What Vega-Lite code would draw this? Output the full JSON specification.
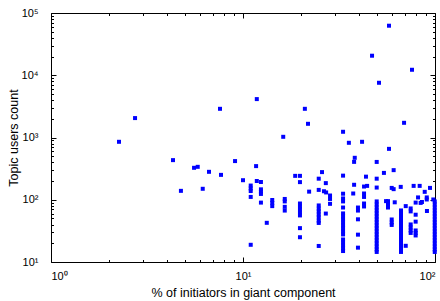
{
  "$schema": "https://vega.github.io/schema/vega-lite/v6.json",
  "width": 384,
  "height": 249,
  "autosize": {"type": "none"},
  "padding": {"left": 51, "top": 13, "right": 5, "bottom": 39},
  "background": "white",
  "config": {
    "view": {"stroke": "black", "strokeWidth": 1},
    "axis": {"labelFont": "Liberation Sans", "titleFont": "Liberation Sans", "labelColor": "black", "titleColor": "black", "tickColor": "black", "tickWidth": 1, "domain": false, "grid": false}
  },
  "data": {"values": [
    {"x":2.26,"y":853},{"x":2.74,"y":2051},{"x":4.32,"y":433},{"x":4.75,"y":139},{"x":5.56,"y":326},{"x":5.81,"y":338},{"x":6.17,"y":150},{"x":6.65,"y":281},{"x":7.59,"y":2890},{"x":7.68,"y":251},{"x":9.09,"y":418},{"x":10.0,"y":206},
    {"x":10.97,"y":169},{"x":10.97,"y":152},{"x":10.97,"y":138},{"x":10.97,"y":111},{"x":10.97,"y":18.9},
    {"x":11.8,"y":4140},{"x":11.7,"y":347},{"x":11.8,"y":200},
    {"x":12.4,"y":193},{"x":12.4,"y":147},{"x":12.4,"y":135},{"x":12.4,"y":124},{"x":12.4,"y":90},
    {"x":13.3,"y":42.6},
    {"x":14.2,"y":99},{"x":14.2,"y":89},{"x":14.2,"y":79},
    {"x":16.5,"y":103},{"x":16.5,"y":94},{"x":16.5,"y":77},{"x":16.5,"y":67},
    {"x":16.2,"y":1026},
    {"x":18.7,"y":242},{"x":19.8,"y":242},{"x":19.8,"y":192},
    {"x":19.8,"y":87},{"x":19.8,"y":78},{"x":19.8,"y":70},{"x":19.8,"y":62.5},{"x":19.8,"y":56},
    {"x":19.8,"y":35},{"x":19.8,"y":25},
    {"x":21.0,"y":2890},{"x":21.8,"y":1660},
    {"x":22.1,"y":135},
    {"x":24.8,"y":218},{"x":24.8,"y":144},{"x":24.8,"y":81},{"x":24.8,"y":72},{"x":24.8,"y":65},{"x":24.8,"y":58},{"x":24.8,"y":52},{"x":24.8,"y":46},{"x":24.8,"y":42.4},{"x":24.8,"y":18.1},
    {"x":25.8,"y":278},{"x":27.0,"y":185},{"x":26.4,"y":137},{"x":27.1,"y":131},
    {"x":28.4,"y":117},{"x":28.4,"y":103},{"x":28.4,"y":86},
    {"x":27.0,"y":60},
    {"x":33.2,"y":1236},{"x":35.6,"y":822},{"x":41.7,"y":853},
    {"x":33.2,"y":244},{"x":33.2,"y":125},{"x":33.2,"y":105},{"x":33.2,"y":94},{"x":33.2,"y":75},{"x":33.2,"y":60.3},{"x":33.2,"y":53.9},{"x":33.2,"y":48.2},{"x":33.2,"y":43.2},{"x":33.2,"y":38.6},{"x":33.2,"y":34.6},{"x":33.2,"y":30.9},{"x":33.2,"y":27.7},{"x":33.2,"y":23.0},{"x":33.2,"y":20.6},{"x":33.2,"y":18.4},{"x":33.2,"y":16.5},{"x":33.2,"y":15.0},
    {"x":37.9,"y":406},{"x":38.2,"y":472},{"x":37.9,"y":174},{"x":37.5,"y":126},
    {"x":39.7,"y":75},{"x":39.7,"y":67},{"x":39.7,"y":48.5},{"x":39.7,"y":27.5},{"x":39.7,"y":17.0},
    {"x":42.7,"y":163},{"x":42.7,"y":126},{"x":42.7,"y":111},{"x":42.7,"y":87},{"x":42.7,"y":78},
    {"x":43.7,"y":235},{"x":44.3,"y":167},
    {"x":49.7,"y":405},{"x":49.7,"y":218},{"x":49.7,"y":157},
    {"x":49.7,"y":94},{"x":49.7,"y":84},{"x":49.7,"y":75.2},{"x":49.7,"y":67.3},{"x":49.7,"y":60.2},{"x":49.7,"y":53.9},{"x":49.7,"y":48.2},{"x":49.7,"y":43.2},{"x":49.7,"y":38.6},{"x":49.7,"y":34.6},{"x":49.7,"y":30.9},{"x":49.7,"y":27.7},{"x":49.7,"y":24.8},{"x":49.7,"y":22.2},{"x":49.7,"y":19.8},{"x":49.7,"y":17.7},{"x":49.7,"y":15.9},{"x":49.7,"y":14.5},
    {"x":54.2,"y":270},{"x":55.6,"y":95},{"x":56.9,"y":95},{"x":56.9,"y":84},{"x":56.9,"y":75},
    {"x":57.6,"y":657},{"x":57.6,"y":62500},{"x":47.0,"y":20600},{"x":51.1,"y":7570},{"x":75.9,"y":12250},{"x":69.0,"y":1722},
    {"x":59.5,"y":155},{"x":60.9,"y":148},{"x":60.9,"y":299},{"x":59.5,"y":48.2},{"x":59.5,"y":43.2},{"x":59.5,"y":39.4},
    {"x":61.7,"y":91},{"x":66.3,"y":161},
    {"x":66.5,"y":67.3},{"x":66.5,"y":60.2},{"x":66.5,"y":53.9},{"x":66.5,"y":48.2},{"x":66.5,"y":43.2},{"x":66.5,"y":38.6},{"x":66.5,"y":34.6},{"x":66.5,"y":30.9},{"x":66.5,"y":27.7},{"x":66.5,"y":24.8},{"x":66.5,"y":22.2},{"x":66.5,"y":19.8},{"x":66.5,"y":17.7},{"x":66.5,"y":15.9},{"x":66.5,"y":14.5},
    {"x":70.4,"y":79},{"x":70.4,"y":18.2},
    {"x":74.7,"y":72.5},{"x":74.7,"y":65},{"x":74.7,"y":40.1},{"x":74.7,"y":35.9},{"x":74.7,"y":32.1},{"x":74.7,"y":29.3},
    {"x":77.4,"y":167},
    {"x":79.3,"y":90},{"x":79.3,"y":57.5},{"x":79.3,"y":44.5},{"x":79.3,"y":32.1},{"x":79.3,"y":29.3},{"x":79.3,"y":26.7},
    {"x":83.2,"y":167},{"x":81.6,"y":109},{"x":85.5,"y":92},{"x":84.2,"y":89},
    {"x":88.4,"y":134},{"x":90.6,"y":109},{"x":90.6,"y":101},{"x":90.8,"y":66},
    {"x":94.2,"y":155},{"x":98,"y":101},
    {"x":99.7,"y":94},{"x":99.7,"y":84},{"x":99.7,"y":75.2},{"x":99.7,"y":67.3},{"x":99.7,"y":60.2},{"x":99.7,"y":53.9},{"x":99.7,"y":48.2},{"x":99.7,"y":43.2},{"x":99.7,"y":38.6},{"x":99.7,"y":34.6},{"x":99.7,"y":30.9},{"x":99.7,"y":27.7},{"x":99.7,"y":24.8},{"x":99.7,"y":22.2},{"x":99.7,"y":19.8},{"x":99.7,"y":17.7},{"x":99.7,"y":15.9},{"x":99.7,"y":14.5}
  ]},
  "resolve": {"axis": {"x": "independent", "y": "independent"}},
  "layer": [
    {
      "mark": {"type": "point", "shape": "square", "filled": true, "size": 16, "color": "#0000ff", "opacity": 1, "strokeWidth": 0},
      "encoding": {
        "x": {"field": "x", "type": "quantitative", "scale": {"type": "log", "domain": [1, 100], "nice": false},
          "axis": {"orient": "bottom", "values": [1, 10, 100], "ticks": false, "labelPadding": 8, "labelFontSize": 11,
            "labelExpr": "datum.value == 1 ? '10⁰' : datum.value == 10 ? '10¹' : '10²'",
            "title": "% of initiators in giant component", "titleFontSize": 12.5, "titleFontWeight": "normal", "titlePadding": 5}},
        "y": {"field": "y", "type": "quantitative", "scale": {"type": "log", "domain": [10, 100000], "nice": false},
          "axis": {"orient": "left", "values": [10, 100, 1000, 10000, 100000], "ticks": false, "labelPadding": 13, "labelFontSize": 11,
            "labelExpr": "datum.value == 10 ? '10¹' : datum.value == 100 ? '10²' : datum.value == 1000 ? '10³' : datum.value == 10000 ? '10⁴' : '10⁵'",
            "title": "Topic users count", "titleFontSize": 12.5, "titleFontWeight": "normal", "titlePadding": 1}}
      }
    },
    {
      "mark": {"type": "point", "opacity": 0},
      "encoding": {
        "x": {"field": "x", "type": "quantitative", "scale": {"type": "log", "domain": [1, 100], "nice": false},
          "axis": {"orient": "bottom", "values": [1, 10, 100], "labels": false, "tickSize": -5, "tickColor": "black", "tickWidth": 1, "title": null}},
        "y": {"field": "y", "type": "quantitative", "scale": {"type": "log", "domain": [10, 100000], "nice": false},
          "axis": {"orient": "left", "values": [10, 100, 1000, 10000, 100000], "labels": false, "tickSize": -5, "tickColor": "black", "tickWidth": 1, "title": null}}
      }
    },
    {
      "mark": {"type": "point", "opacity": 0},
      "encoding": {
        "x": {"field": "x", "type": "quantitative", "scale": {"type": "log", "domain": [1, 100], "nice": false},
          "axis": {"orient": "bottom", "values": [2,3,4,5,6,7,8,9,20,30,40,50,60,70,80,90], "labels": false, "tickSize": -2.5, "tickColor": "black", "tickWidth": 1, "title": null}},
        "y": {"field": "y", "type": "quantitative", "scale": {"type": "log", "domain": [10, 100000], "nice": false},
          "axis": {"orient": "left", "values": [20,30,40,50,60,70,80,90,200,300,400,500,600,700,800,900,2000,3000,4000,5000,6000,7000,8000,9000,20000,30000,40000,50000,60000,70000,80000,90000], "labels": false, "tickSize": -2.5, "tickColor": "black", "tickWidth": 1, "title": null}}
      }
    },
    {
      "mark": {"type": "point", "opacity": 0},
      "encoding": {
        "x": {"field": "x", "type": "quantitative", "scale": {"type": "log", "domain": [1, 100], "nice": false},
          "axis": {"orient": "top", "values": [1, 10, 100], "labels": false, "tickSize": -5, "tickColor": "black", "tickWidth": 1, "title": null}},
        "y": {"field": "y", "type": "quantitative", "scale": {"type": "log", "domain": [10, 100000], "nice": false},
          "axis": {"orient": "right", "values": [10, 100, 1000, 10000, 100000], "labels": false, "tickSize": -5, "tickColor": "black", "tickWidth": 1, "title": null}}
      }
    },
    {
      "mark": {"type": "point", "opacity": 0},
      "encoding": {
        "x": {"field": "x", "type": "quantitative", "scale": {"type": "log", "domain": [1, 100], "nice": false},
          "axis": {"orient": "top", "values": [2,3,4,5,6,7,8,9,20,30,40,50,60,70,80,90], "labels": false, "tickSize": -2.5, "tickColor": "black", "tickWidth": 1, "title": null}},
        "y": {"field": "y", "type": "quantitative", "scale": {"type": "log", "domain": [10, 100000], "nice": false},
          "axis": {"orient": "right", "values": [20,30,40,50,60,70,80,90,200,300,400,500,600,700,800,900,2000,3000,4000,5000,6000,7000,8000,9000,20000,30000,40000,50000,60000,70000,80000,90000], "labels": false, "tickSize": -2.5, "tickColor": "black", "tickWidth": 1, "title": null}}
      }
    }
  ]
}
